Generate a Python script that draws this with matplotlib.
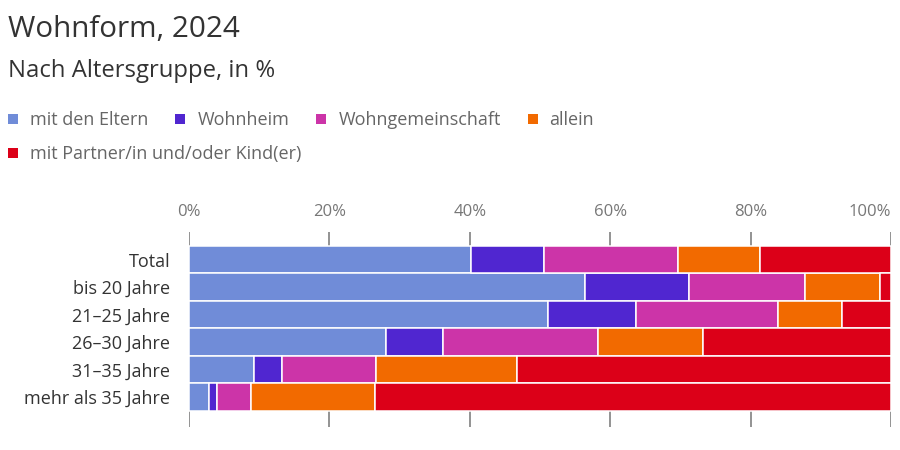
import matplotlib
matplotlib.use("Agg")
import matplotlib.pyplot as plt
from matplotlib.patches import Rectangle
import numpy as np

plt.rcParams['font.family'] = ['Open Sans', 'DejaVu Sans']

categories = ["Total", "bis 20 Jahre", "21–25 Jahre", "26–30 Jahre", "31–35 Jahre", "mehr als 35 Jahre"]
series_names = ["mit den Eltern", "Wohnheim", "Wohngemeinschaft", "allein", "mit Partner/in und/oder Kind(er)"]
eltern      = [40.1, 56.4, 51.1, 28.0,  9.3,  2.8]
wohnheim    = [10.5, 14.8, 12.6,  8.2,  4.0,  1.2]
wg          = [19.0, 16.5, 20.2, 22.1, 13.4,  4.9]
allein      = [11.8, 10.8,  9.1, 14.9, 20.0, 17.6]
partner     = [18.6,  1.5,  7.0, 26.8, 53.3, 73.5]
colors = ["#708cd8", "#5026d0", "#cc34a8", "#f26a00", "#dc0018"]
xticks = [0, 20, 40, 60, 80, 100]
xticklabels = ["0%", "20%", "40%", "60%", "80%", "100%"]

W, H = 900, 450
fig = plt.figure(figsize=(9, 4.5), dpi=100)
ax = fig.add_axes([189/W, 1-427/H, (891-189)/W, (427-232)/H])

series = [eltern, wohnheim, wg, allein, partner]
y = np.arange(len(categories))
left = np.zeros(len(categories))
for vals, c, name in zip(series, colors, series_names):
    ax.barh(y, vals, left=left, height=1.0, color=c, edgecolor='white', linewidth=1.1, zorder=3, label=name)
    left += np.array(vals)

ax.set_xlim(0, 100)
ax.set_ylim(6.09, -1.0)
ax.set_xticks(xticks)
ax.set_xticklabels(xticklabels)
ax.xaxis.tick_top()
ax.tick_params(axis='x', length=0, pad=9, labelsize=12, labelcolor='#777777')
ax.get_xticklabels()[-1].set_ha('right')
ax.set_yticks(y)
ax.set_yticklabels(categories)
ax.tick_params(axis='y', length=0, pad=13.5, labelsize=13, labelcolor='#333333')
ax.grid(axis='x', color='#8a8a8a', linewidth=1.3, zorder=0)
ax.grid(axis='y', visible=False)
for s in ax.spines.values():
    s.set_visible(False)
ax.set_facecolor('none')

fig.text(8/W, 1-37/H, "Wohnform, 2024", fontsize=21.3, color='#333333', va='baseline', ha='left')
fig.text(8/W, 1-77/H, "Nach Altersgruppe, in %", fontsize=17.2, color='#333333', va='baseline', ha='left')

# legend drawn manually
fig.canvas.draw()
renderer = fig.canvas.get_renderer()
rows = [[0, 1, 2, 3], [4]]
baselines = [125, 159]
for r, idxs in enumerate(rows):
    x = 8
    base = baselines[r]
    for i in idxs:
        fig.add_artist(Rectangle((x/W, 1-(base-1)/H), 10/W, 10/H, transform=fig.transFigure,
                                 color=colors[i], lw=0))
        t = fig.text((x+22)/W, 1-base/H, series_names[i], fontsize=13, color='#666666',
                     va='baseline', ha='left')
        bb = t.get_window_extent(renderer)
        x = bb.x1 + 27

fig.savefig("out.png", dpi=100)
